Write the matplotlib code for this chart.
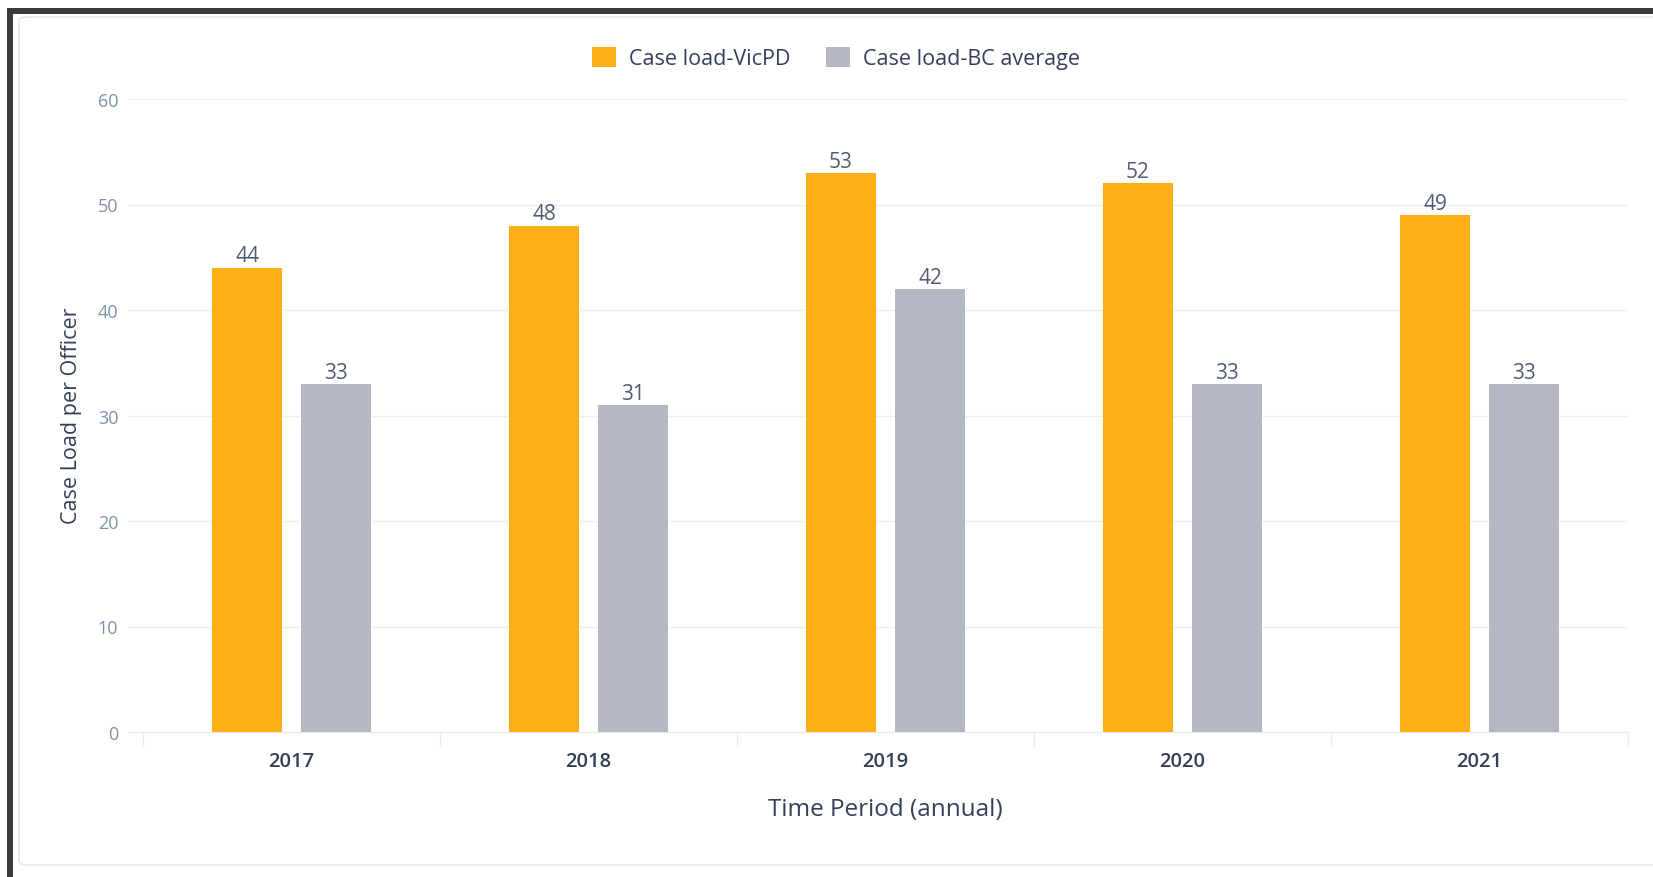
import numpy as np
import matplotlib
matplotlib.use('Agg')
import matplotlib.pyplot as plt
from matplotlib.patches import Patch, Rectangle, FancyBboxPatch

# Chart data
years = ['2017', '2018', '2019', '2020', '2021']
vicpd = [44, 48, 53, 52, 49]
bc_avg = [33, 31, 42, 33, 33]
series_names = ['Case load-VicPD', 'Case load-BC average']
y_ticks = [0, 10, 20, 30, 40, 50, 60]

ORANGE = '#FCAF17'
GREY = '#B3B8C3'
DARK = '#34405a'
LIGHT_TICK = '#7f91ab'

plt.rcParams['font.family'] = ['Open Sans', 'DejaVu Sans']

W, H = 1653, 878
fig = plt.figure(figsize=(W / 100, H / 100), dpi=100)
fig.patch.set_facecolor('white')

# Screenshot frame: dark top/left edge and light card outline
fig.patches.append(Rectangle((7 / W, 1 - 15 / H), 1, 6 / H, transform=fig.transFigure,
                             facecolor='#3a3a3a', edgecolor='none', zorder=0))
fig.patches.append(Rectangle((7 / W, 0), 6 / W, 1 - 9 / H, transform=fig.transFigure,
                             facecolor='#3a3a3a', edgecolor='none', zorder=0))
fig.patches.append(FancyBboxPatch((19 / W, 1 - 866 / H), 1.2, (866 - 18) / H,
                                  boxstyle='round,pad=0,rounding_size=0.005',
                                  transform=fig.transFigure, facecolor='none',
                                  edgecolor='#e6e6e6', linewidth=1.2, zorder=0))

# Axes placement (pixel-measured)
ax = fig.add_axes([128 / W, 1 - 733 / H, 1500 / W, (733 - 100) / H])
ax.set_facecolor('none')

x = np.arange(len(years))
bar_w = 70 / 297
off = 44.5 / 297
b1 = ax.bar(x - off, vicpd, width=bar_w, color=ORANGE, zorder=3)
b2 = ax.bar(x + off, bc_avg, width=bar_w, color=GREY, zorder=3)

for bars, vals in ((b1, vicpd), (b2, bc_avg)):
    for rect, v in zip(bars, vals):
        ax.annotate(f'{v}', (rect.get_x() + rect.get_width() / 2, v),
                    xytext=(0, 8.5), textcoords='offset points',
                    ha='center', va='center', fontsize=15, color='#4f5c74')

ax.set_xlim(-0.5 - 15 / 297, 4.5)
ax.set_ylim(0, 60)
ax.set_yticks(y_ticks)
ax.tick_params(axis='y', length=0, pad=7, labelsize=13, labelcolor=LIGHT_TICK)
ax.yaxis.grid(True, color='#f0f0f0', linewidth=1, zorder=0)
ax.set_axisbelow(True)

ax.set_xticks(x)
ax.set_xticklabels(years, fontsize=14.5, fontweight='semibold', color=DARK)
ax.tick_params(axis='x', which='major', length=0, pad=14)
ax.set_xticks(np.arange(-0.5, 5, 1), minor=True)
ax.tick_params(axis='x', which='minor', length=10, width=1, color='#ebebeb')

for s in ('top', 'right', 'left'):
    ax.spines[s].set_visible(False)
ax.spines['bottom'].set_color('#ebebeb')

fig.text(72 / W, 1 - 416 / H, 'Case Load per Officer', rotation=90,
         ha='center', va='center', fontsize=15.5, color=DARK)
fig.text(885 / W, 1 - 810 / H, 'Time Period (annual)',
         ha='center', va='center', fontsize=17.5, color=DARK)

handles = [Patch(facecolor=ORANGE), Patch(facecolor=GREY)]
fig.legend(handles, series_names, loc='center', bbox_to_anchor=(836 / W, 1 - 59 / H),
           ncol=2, frameon=False, fontsize=15.5, labelcolor=DARK,
           handlelength=1.1, handleheight=1.1, handletextpad=0.6, columnspacing=1.7)

fig.savefig('out.png', dpi=100, facecolor='white')
